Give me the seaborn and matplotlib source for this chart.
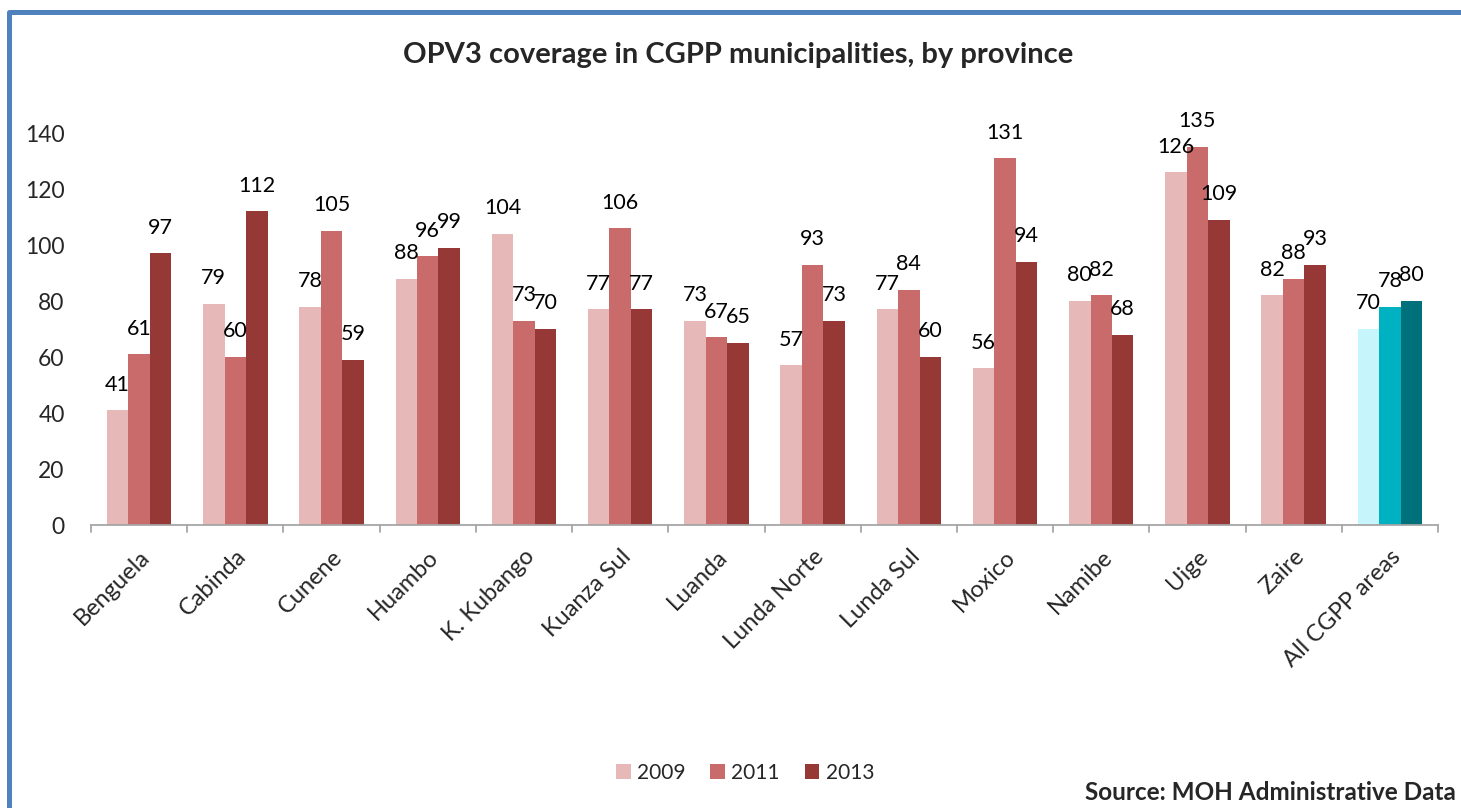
import matplotlib
matplotlib.use("Agg")
import matplotlib.pyplot as plt
from matplotlib.patches import Rectangle, Patch
import seaborn as sns
import pandas as pd

provinces = ["Benguela", "Cabinda", "Cunene", "Huambo", "K. Kubango", "Kuanza Sul",
             "Luanda", "Lunda Norte", "Lunda Sul", "Moxico", "Namibe", "Uige", "Zaire",
             "All CGPP areas"]
years = ["2009", "2011", "2013"]
cov_2009 = [41, 79, 78, 88, 104, 77, 73, 57, 77, 56, 80, 126, 82, 70]
cov_2011 = [61, 60, 105, 96, 73, 106, 67, 93, 84, 131, 82, 135, 88, 78]
cov_2013 = [97, 112, 59, 99, 70, 77, 65, 73, 60, 94, 68, 109, 93, 80]
yticks = [0, 20, 40, 60, 80, 100, 120, 140]

red_colors = ["#E6B9B8", "#C96B6A", "#953836"]
teal_colors = ["#C6F6FB", "#00B1C1", "#00707A"]

df = pd.DataFrame({
    "province": provinces * 3,
    "year": [y for y in years for _ in provinces],
    "value": cov_2009 + cov_2011 + cov_2013,
})

sns.set_theme(style="white")
plt.rcParams["font.family"] = ["Lato", "DejaVu Sans"]

fig = plt.figure(figsize=(14.61, 8.08), dpi=100)
ax = fig.add_axes([91 / 1461, 1 - 525 / 808, (1438 - 91) / 1461, (525 - 133) / 808])

sns.barplot(data=df, x="province", y="value", hue="year", order=provinces,
            hue_order=years, palette=red_colors, width=0.67, saturation=1,
            linewidth=0, legend=False, ax=ax)

# overall group drawn in teal shades
for cont, col in zip(ax.containers, teal_colors):
    cont.patches[-1].set_facecolor(col)

# value labels above each bar
for cont in ax.containers:
    for bar in cont.patches:
        h = bar.get_height()
        ax.annotate(f"{h:.0f}", (bar.get_x() + bar.get_width() / 2, h),
                    xytext=(0, 18.5), textcoords="offset points",
                    ha="center", va="center", fontsize=15.5, color="black")

ax.set_ylim(0, 140)
ax.set_xlim(-0.5, len(provinces) - 0.5)
ax.set_yticks(yticks)
ax.set_yticklabels([str(t) for t in yticks], fontsize=16.5)
ax.tick_params(axis="y", length=0, pad=19)
ax.set_xlabel("")
ax.set_ylabel("")

# category labels rotated; tick marks sit at category boundaries
ax.set_xticks(range(len(provinces)))
ax.set_xticklabels(provinces, rotation=45, ha="right", rotation_mode="anchor",
                   fontsize=17)
ax.tick_params(axis="x", length=0, pad=15)
for b in [i - 0.5 for i in range(len(provinces) + 1)]:
    ax.plot([b, b], [0, -0.017], transform=ax.get_xaxis_transform(),
            color="#A6A6A6", lw=1.3, clip_on=False)

for s in ["top", "right", "left"]:
    ax.spines[s].set_visible(False)
ax.spines["bottom"].set_color("#A6A6A6")
ax.spines["bottom"].set_linewidth(1.3)

fig.text(738 / 1461, 1 - 55 / 808, "OPV3 coverage in CGPP municipalities, by province",
         ha="center", va="center", fontsize=21, fontweight="bold")

handles = [Patch(facecolor=c, edgecolor="none") for c in red_colors]
fig.legend(handles, years, loc="center", bbox_to_anchor=(745 / 1461, 1 - 773 / 808),
           ncol=3, frameon=False, fontsize=15, handlelength=0.7, handleheight=0.7,
           handletextpad=0.3, columnspacing=1.2)

fig.text(1456 / 1461, 1 - 793 / 808, "Source: MOH Administrative Data",
         ha="right", va="center", fontsize=17.5, fontweight="bold")

# blue chart-area border along top and left
fig.patches.append(Rectangle((8.5 / 1461, -0.1), 1.2, 1.1 - 12.5 / 808,
                             transform=fig.transFigure, fill=False,
                             edgecolor="#4F81BD", linewidth=3.6,
                             joinstyle="round", figure=fig))

fig.savefig("out.png", dpi=100)
